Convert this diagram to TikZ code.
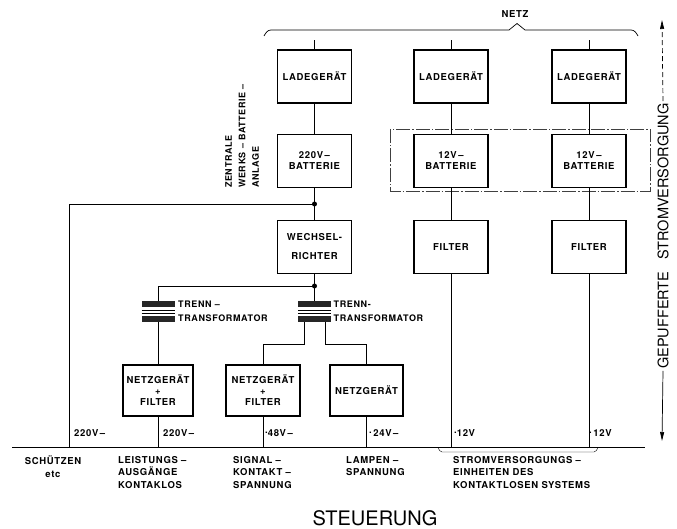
\documentclass[tikz,border=0pt]{standalone}
\usepackage{fontspec}
\setmainfont{TeX Gyre Heros}[LetterSpace=7]
\newfontfamily\plainsf{TeX Gyre Heros}
\usetikzlibrary{arrows.meta,positioning,calc}
\newcommand{\md}{\raisebox{2.6pt}{.}}
\tikzset{
  blk/.style   ={draw,line width=1.1pt,minimum width=74pt,minimum height=53pt,
                 inner sep=1pt,align=center,font=\fontsize{9.5}{11}\selectfont\bfseries},
  ln/.style    ={line width=0.7pt},
  bar/.style   ={fill=black!85,minimum width=33pt,minimum height=6.5pt,inner sep=0pt},
  jdot/.style  ={circle,fill,inner sep=0pt,minimum size=5pt},
  volt/.style  ={anchor=west,inner sep=0pt,font=\fontsize{9.5}{11}\selectfont\bfseries},
  grp/.style   ={anchor=north west,align=left,inner sep=0pt,
                 font=\fontsize{9.5}{12.5}\selectfont\bfseries},
  trl/.style   ={anchor=west,align=left,inner sep=0pt,
                 font=\fontsize{9}{14}\selectfont\bfseries},
  tip/.style   ={-{Triangle[length=9pt,width=4pt]}},
}
\begin{document}
\begin{tikzpicture}[x=1pt,y=1pt]
\useasboundingbox (0,0) rectangle (677,-529);

% ---- netz ----------------------------------------------------------------
\node[font=\fontsize{9.5}{11}\selectfont\bfseries] (NZ) at (515,-14) {NETZ};
\draw[ln] (264,-36) to[out=60,in=180] (271,-30) -- (509,-30) -- (517,-23.5)
  -- (525,-30) -- (631,-30) to[out=0,in=120] (638,-36);
\coordinate (NZb) at (0,-40);

% ---- columns -----------------------------------------------------------
\node[blk] (LGA) at (314.5,-76.5) {LADEGERÄT};
\node[blk] (LGB) at (451,-76.5) {LADEGERÄT};
\node[blk] (LGC) at (589,-76.5) {LADEGERÄT};
\node[blk,below=30pt of LGA] (BATA) {220V\,–\\BATTERIE};
\node[blk,below=30pt of LGB] (BATB) {12V\,–\\BATTERIE};
\node[blk,below=30pt of LGC] (BATC) {12V\,–\\BATTERIE};
\node[blk,below=32pt of BATA] (WR) {WECHSEL-\\[8pt]RICHTER};
\node[blk,below=32pt of BATB] (FB) {FILTER};
\node[blk,below=32pt of BATC] (FC) {FILTER};
\draw[line width=0.5pt,black!75,dash pattern=on 14pt off 2pt on 1.5pt off 2pt]
  (390,-129) rectangle (650,-191);

\node[rotate=90,anchor=north west,align=left,inner sep=0pt,
  font=\fontsize{9}{13.5}\selectfont\bfseries] (ZW) at (225,-188)
  {ZENTRALE\\WERKS – BATTERIE –\\ANLAGE};

% ---- junctions / transformers ----------------------------------------
\node[jdot] (J1) at (314.5,-204) {};
\node[jdot] (J2) at (314.5,-286) {};
\coordinate (TA) at (158,-311.5);
\coordinate (TB) at (314.5,-311.5);
\node[bar,above=4pt of TA] (TAt) {};
\node[bar,below=4pt of TA] (TAb) {};
\node[bar,above=4pt of TB] (TBt) {};
\node[bar,below=4pt of TB] (TBb) {};
\foreach \t in {TA,TB}{
  \draw[thin] ([xshift=-16.5pt,yshift=1.5pt]\t) -- ([xshift=16.5pt,yshift=1.5pt]\t);
  \draw[thin] ([xshift=-16.5pt,yshift=-1.5pt]\t) -- ([xshift=16.5pt,yshift=-1.5pt]\t);
}
\node[trl,right=20pt of TA] (TLA) {TRENN –\\TRANSFORMATOR};
\node[trl,right=19pt of TB] (TLB) {TRENN-\\TRANSFORMATOR};

\node[blk,minimum width=70pt,minimum height=51pt] (NF1) at (158,-390.5)
  {NETZGERÄT\\+\\FILTER};
\node[blk,minimum height=51pt] (NF2) at (263,-390.5) {NETZGERÄT\\+\\FILTER};
\node[blk,minimum width=73pt,minimum height=51pt] (NG) at (366.5,-390.5) {NETZGERÄT};

% ---- steuerung bus -----------------------------------------------------
\coordinate (BLw) at (12,-447);
\coordinate (BLe) at (645,-447);
\coordinate (SCH) at (69,-447);
\draw[ln] (BLw) -- (BLe);

% ---- edges ------------------------------------------------------------
\draw[ln] (LGA) -- (LGA |- NZb);
\draw[ln] (LGB) -- (LGB |- NZb);
\draw[ln] (LGC) -- (LGC |- NZb);
\draw[ln] (LGA) -- (BATA);
\draw[ln] (LGB) -- (BATB);
\draw[ln] (LGC) -- (BATC);
\draw[ln] (BATA) -- (WR);
\draw[ln] (BATB) -- (FB);
\draw[ln] (BATC) -- (FC);
\draw[ln] (FB) -- (FB |- BLw);
\draw[ln] (FC) -- (FC |- BLw);
\draw[ln] (J1.center) -| (SCH);
\draw[ln] (WR) -- (TBt);
\draw[ln] (J2.center) -| (TAt.north);
\draw[ln] (TAb) -- (NF1);
\draw[ln] ([xshift=-10.5pt]TBb.south) -- ++(0,-22) -| (NF2.north);
\draw[ln] ([xshift=10.5pt]TBb.south) -- ++(0,-22) -| (NG.north);
\draw[ln] (NF1) -- (NF1 |- BLw);
\draw[ln] (NF2) -- (NF2 |- BLw);
\draw[ln] (NG) -- (NG |- BLw);

% ---- voltages -----------------------------------------------------------
\node[volt] (V1) at (74,-433) {220V\,–};
\node[volt] (V2) at (163,-433) {220V\,–};
\node[volt] (V3) at (265,-433) {\md48V\,–};
\node[volt] (V4) at (369,-433) {\md\,24V\,–};
\node[volt] (V5) at (454,-433) {\md12V};
\node[volt] (V6) at (589,-433) {\md\,12V};

% ---- consumers ----------------------------------------------------------
\node[grp,align=center,anchor=north] (C1) at (53,-456) {SCHÜTZEN\\etc};
\node[grp] (C2) at (118,-456) {LEISTUNGS –\\AUSGÄNGE\\KONTAKLOS};
\node[grp] (C3) at (233,-456) {SIGNAL –\\KONTAKT –\\SPANNUNG};
\node[grp] (C4) at (346,-456) {LAMPEN –\\SPANNUNG};
\node[grp] (C5) at (453,-456) {STROMVERSORGUNGS –\\EINHEITEN DES\\KONTAKTLOSEN SYSTEMS};
\draw[thin] (438,-447.5) to[out=-60,in=180] (442,-452) -- (594,-452)
  to[out=0,in=-120] (598,-447.5);
\node[font=\plainsf\fontsize{20}{24}\selectfont] (ST) at (375,-518) {STEUERUNG};

% ---- gepufferte stromversorgung ------------------------------------------
\coordinate (AT) at (662,-20);
\coordinate (AB) at (662,-441);
\node[rotate=90,inner sep=2pt,font=\plainsf\fontsize{14.5}{17}\selectfont] (GS)
  at (663,-236) {GEPUFFERTE\hspace{12pt}STROMVERSORGUNG};
\draw[ln,tip,dash pattern=on 5pt off 3pt] (GS.east) -- (AT);
\draw[ln,tip] (GS.west) -- (AB);
\end{tikzpicture}
\end{document}
